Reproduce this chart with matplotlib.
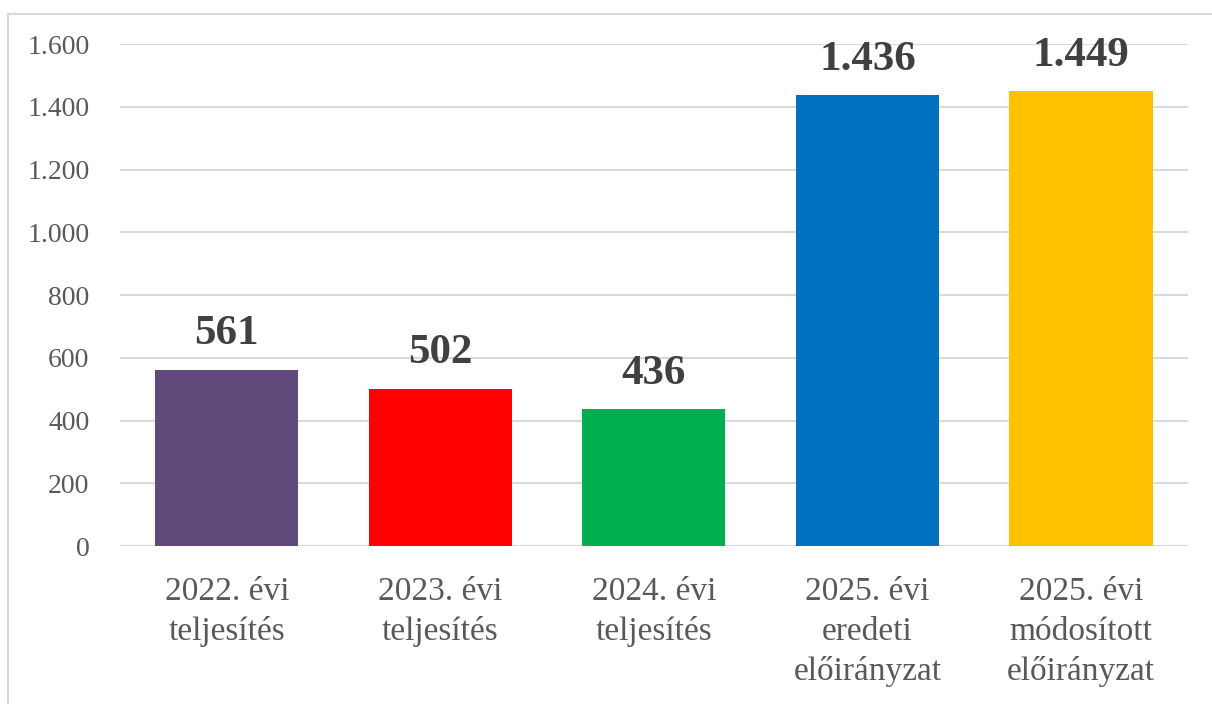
import matplotlib.pyplot as plt
from matplotlib.lines import Line2D

# data
categories = [
    "2022. évi\nteljesítés",
    "2023. évi\nteljesítés",
    "2024. évi\nteljesítés",
    "2025. évi\neredeti\nelőirányzat",
    "2025. évi\nmódosított\nelőirányzat",
]
values = [561, 502, 436, 1436, 1449]
bar_colors = ["#604A7B", "#FF0000", "#00B050", "#0070C0", "#FFC000"]
yticks = [0, 200, 400, 600, 800, 1000, 1200, 1400, 1600]


def hu_fmt(v):
    # Hungarian thousands separator is a dot
    return f"{v:,}".replace(",", ".")


plt.rcParams["font.family"] = ["Liberation Serif", "DejaVu Serif"]

fig = plt.figure(figsize=(12.12, 7.04), dpi=100)
ax = fig.add_axes([0.099, 0.2244, 0.881, 0.7131])

x = range(len(categories))
ax.bar(x, values, width=0.67, color=bar_colors, zorder=3)

for xi, v in zip(x, values):
    ax.annotate(hu_fmt(v), (xi, v), xytext=(0, 12), textcoords="offset points",
                ha="center", va="bottom", fontsize=31, fontweight="bold",
                color="#404040")

ax.set_xlim(-0.5, len(categories) - 0.5)
ax.set_ylim(0, 1600)
ax.set_yticks(yticks)
ax.set_yticklabels([hu_fmt(t) for t in yticks])
ax.set_xticks(list(x))
ax.set_xticklabels(categories, linespacing=1.38)

ax.grid(axis="y", color="#D9D9D9", linewidth=1.5, zorder=0)
for s in ax.spines.values():
    s.set_visible(False)
ax.tick_params(axis="y", length=0, pad=22, labelsize=20, labelcolor="#595959")
ax.tick_params(axis="x", length=0, pad=22, labelsize=24, labelcolor="#595959")

# outer chart frame (cropped at right and bottom in the reference)
fx = 7.5 / 1212
fy = 1 - 13.5 / 704
fig.add_artist(Line2D([fx, fx], [0, fy], color="#D9D9D9", linewidth=1.5))
fig.add_artist(Line2D([fx, 1], [fy, fy], color="#D9D9D9", linewidth=1.5))

fig.savefig("out.png", dpi=100)
